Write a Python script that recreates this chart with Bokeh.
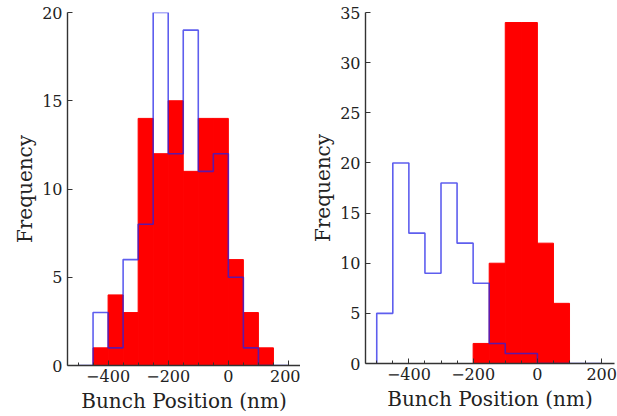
import numpy as np
from bokeh.plotting import figure
from bokeh.layouts import row
from bokeh.models import FixedTicker, Range1d
from bokeh.embed import file_html
from bokeh.resources import INLINE

# Left panel data (bin width 50 nm)
left_red_edges = [-450, -400, -350, -300, -250, -200, -150, -100, -50, 0, 50, 100, 150]
left_red_counts = [1, 4, 3, 14, 12, 15, 11, 14, 14, 6, 3, 1]
left_blue_edges = [-500, -450, -400, -350, -300, -250, -200, -150, -100, -50, 0, 50, 100, 150, 200]
left_blue_counts = [0, 3, 1, 6, 8, 20, 12, 19, 11, 12, 5, 1, 0, 0]

# Right panel data
right_red_edges = [-500, -450, -400, -350, -300, -250, -200, -150, -100, -50, 0, 50, 100]
right_red_counts = [0, 0, 0, 0, 0, 0, 2, 10, 34, 34, 12, 6]
right_blue_edges = [-500, -450, -400, -350, -300, -250, -200, -150, -100, -50, 0, 50, 100, 150, 200]
right_blue_counts = [5, 20, 13, 9, 18, 12, 8, 2, 1, 1, 0, 0, 0, 0]

x_major = [-400, -200, 0, 200]
x_minor = list(range(-500, 250, 50))
left_y_ticks = [0, 5, 10, 15, 20]
right_y_ticks = [0, 5, 10, 15, 20, 25, 30, 35]

FONT = "DejaVu Serif"
AX = "#333333"


def stairs(edges, counts):
    xs, ys = [edges[0]], [0]
    for i, c in enumerate(counts):
        xs += [edges[i], edges[i + 1]]
        ys += [c, c]
    xs.append(edges[-1])
    ys.append(0)
    return xs, ys


def make(fw, fh, red_edges, red_counts, blue_edges, blue_counts, ymax, yticks,
         mb_left, mb_top, mb_right):
    p = figure(frame_width=fw, frame_height=fh, output_backend="svg", toolbar_location=None,
               x_range=Range1d(-535, 240), y_range=Range1d(0, ymax),
               min_border_left=mb_left, min_border_right=mb_right, min_border_top=mb_top,
               min_border_bottom=46)
    p.grid.visible = False
    p.outline_line_color = None
    p.background_fill_color = "white"
    e = np.array(red_edges)
    p.quad(left=e[:-1], right=e[1:], bottom=0, top=red_counts,
           fill_color="#ff0000", line_color="#ff0000", line_width=1)
    xs, ys = stairs(blue_edges, blue_counts)
    p.line(xs, ys, line_color="#2020e8", line_width=1.6, line_alpha=0.72)

    for ax in (p.xaxis[0], p.yaxis[0]):
        ax.axis_line_color = AX
        ax.axis_line_width = 1.4
        ax.major_tick_line_color = AX
        ax.minor_tick_line_color = AX
        ax.major_tick_in = 5
        ax.major_tick_out = 0
        ax.minor_tick_in = 3
        ax.minor_tick_out = 0
        ax.major_label_text_font = FONT
        ax.major_label_text_font_size = "16px"
        ax.major_label_text_color = "#222222"
        ax.axis_label_text_font = FONT
        ax.axis_label_text_font_size = "20px"
        ax.axis_label_text_font_style = "normal"
        ax.axis_label_text_color = "#222222"
    p.xaxis[0].ticker = FixedTicker(ticks=x_major, minor_ticks=x_minor)
    p.yaxis[0].ticker = FixedTicker(ticks=yticks, minor_ticks=[])
    p.xaxis[0].axis_label = "Bunch Position (nm)"
    p.yaxis[0].axis_label = "Frequency"
    p.xaxis[0].major_label_standoff = 4
    p.yaxis[0].major_label_standoff = 5
    p.xaxis[0].axis_label_standoff = 4
    p.yaxis[0].axis_label_standoff = 2
    return p


p1 = make(233, 353, left_red_edges, left_red_counts, left_blue_edges, left_blue_counts,
          20, left_y_ticks, 67, 10, 0)
p2 = make(249, 351, right_red_edges, right_red_counts, right_blue_edges, right_blue_counts,
          35, right_y_ticks, 65, 12, 3)

layout = row(p1, p2)
open("out.html", "w").write(file_html(layout, INLINE))
